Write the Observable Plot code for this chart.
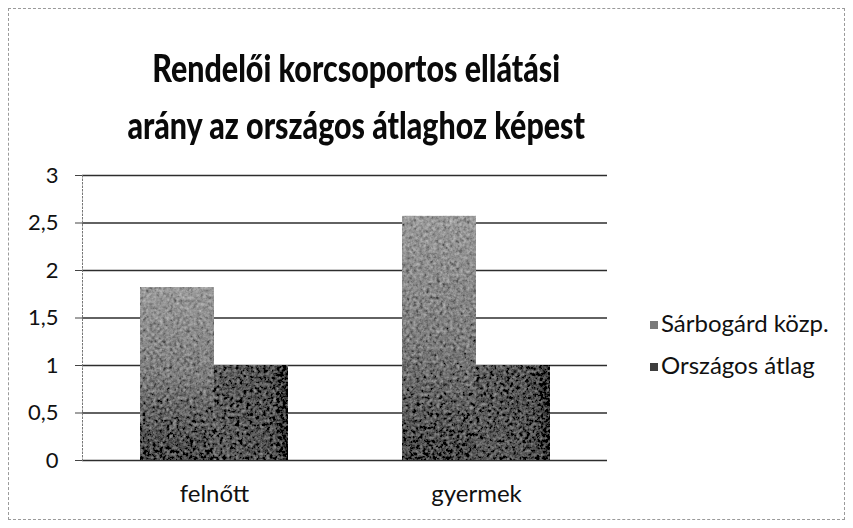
<!DOCTYPE html>
<html>
<head>
<meta charset="utf-8">
<script src="https://cdn.jsdelivr.net/npm/d3@7"></script>
<script src="https://cdn.jsdelivr.net/npm/@observablehq/plot@0.6"></script>
<style>
  html, body { margin: 0; padding: 0; background: #fff; }
  #wrap { position: relative; width: 853px; height: 528px; overflow: hidden; font-family: Lato, "Open Sans", sans-serif; }
  #frame { position: absolute; left: 8px; top: 8px; width: 837px; height: 512px; border: 1px dashed #9a9a9a; box-sizing: border-box; }
  #title { position: absolute; left: 0; top: 39px; width: 712px; text-align: center; font-weight: 900; font-size: 38px; line-height: 57px; color: #0a0a0a; transform: scaleX(0.8); transform-origin: 357px 0; white-space: nowrap; }
  #chart { position: absolute; left: 0; top: 160px; }
  #legend { position: absolute; left: 650px; top: 302px; font-size: 24px; color: #111; line-height: 42px; white-space: nowrap; }
  #legend .sw { display: inline-block; width: 8px; height: 8px; margin-right: 3px; vertical-align: 3px; }
</style>
</head>
<body>
<div id="wrap">
  <div id="frame"></div>
  <div id="title">Rendelői korcsoportos ellátási<br>arány az országos átlaghoz képest</div>
  <div id="chart"></div>
  <div id="legend"></div>
</div>
<script>
const categories = ["felnőtt", "gyermek"];
const series = ["Sárbogárd közp.", "Országos átlag"];
const sarbogardValues = [1.82, 2.57];
const orszagosValues = [1.0, 1.0];
const yTicks = [0, 0.5, 1, 1.5, 2, 2.5, 3];
const seriesColors = ["#7a7a7a", "#3e3e3e"];
const seriesFills = ["url(#fillSarbogard)", "url(#fillOrszagos)"];

const rows = categories.map((c, i) => ({category: c, sarbogard: sarbogardValues[i], orszagos: orszagosValues[i]}));

const fmt = d => String(d).replace(".", ",");

const W = 853, H = 360, mL = 82, mR = 246, mT = 15, mB = 60;
const padInner = 0.436, padOuter = 0.218;
// half of the group width, derived from the same band scale Plot uses
const bw = d3.scaleBand(categories, [mL, W - mR]).paddingInner(padInner).paddingOuter(padOuter).bandwidth();
const half = bw / 2;

const chart = Plot.plot({
  width: W,
  height: H,
  marginLeft: mL,
  marginRight: mR,
  marginTop: mT,
  marginBottom: mB,
  style: {fontFamily: "Lato, 'Open Sans', sans-serif", fontSize: "24px", color: "#111", background: "transparent", overflow: "visible"},
  x: {domain: categories, paddingInner: padInner, paddingOuter: padOuter, label: null, tickSize: 0, tickPadding: 24},
  y: {domain: [0, 3], ticks: yTicks, tickFormat: fmt, label: null},
  marks: [
    Plot.gridY(yTicks, {stroke: "#222", strokeOpacity: 0.95, strokeWidth: 1.3}),
    Plot.frame({anchor: "left", stroke: "#777", strokeDasharray: "1.5,2"}),
    Plot.axisY({ticks: yTicks, tickFormat: fmt, tickSize: 7, tickPadding: 17, label: null, stroke: "#444", fontSize: 22}),
    Plot.axisX({tickSize: 0, tickPadding: 24, label: null, fontSize: 24}),
    Plot.barY(rows, {x: "category", y: "sarbogard", fill: seriesFills[0], insetRight: half}),
    Plot.barY(rows, {x: "category", y: "orszagos", fill: seriesFills[1], insetLeft: half})
  ]
});

// gradients and grain for the scanned, textured look of the bars
const svg = d3.select(chart);
const defs = svg.insert("defs", ":first-child");
const g1 = defs.append("linearGradient").attr("id", "fillSarbogard").attr("x1", 0).attr("y1", 0).attr("x2", 0).attr("y2", 1);
g1.append("stop").attr("offset", "0%").attr("stop-color", "#9a9a9a");
g1.append("stop").attr("offset", "50%").attr("stop-color", "#7e7e7e");
g1.append("stop").attr("offset", "100%").attr("stop-color", "#454545");
const g2 = defs.append("linearGradient").attr("id", "fillOrszagos").attr("x1", 0).attr("y1", 0).attr("x2", 1).attr("y2", 0);
g2.append("stop").attr("offset", "0%").attr("stop-color", "#5c5c5c");
g2.append("stop").attr("offset", "82%").attr("stop-color", "#505050");
g2.append("stop").attr("offset", "100%").attr("stop-color", "#1e1e1e");
const f = defs.append("filter").attr("id", "grain").attr("x", 0).attr("y", 0).attr("width", 1).attr("height", 1);
f.append("feTurbulence").attr("type", "fractalNoise").attr("baseFrequency", 0.3).attr("numOctaves", 4).attr("seed", 7).attr("result", "noise");
f.append("feColorMatrix").attr("in", "noise").attr("type", "matrix")
  .attr("values", "0.33 0.33 0.33 0 0  0.33 0.33 0.33 0 0  0.33 0.33 0.33 0 0  0 0 0 0 1").attr("result", "gray");
f.append("feComposite").attr("in", "SourceGraphic").attr("in2", "gray").attr("operator", "arithmetic")
  .attr("k1", 0).attr("k2", 1).attr("k3", 0.9).attr("k4", -0.45).attr("result", "mix");
f.append("feComposite").attr("in", "mix").attr("in2", "SourceGraphic").attr("operator", "in");
svg.selectAll("g[aria-label='bar'] rect").attr("filter", "url(#grain)");

document.getElementById("chart").appendChild(chart);

const legend = document.getElementById("legend");
series.forEach((s, i) => {
  const row = document.createElement("div");
  row.innerHTML = `<span class="sw" style="background:${seriesColors[i]}"></span>${s}`;
  legend.appendChild(row);
});
</script>
</body>
</html>
